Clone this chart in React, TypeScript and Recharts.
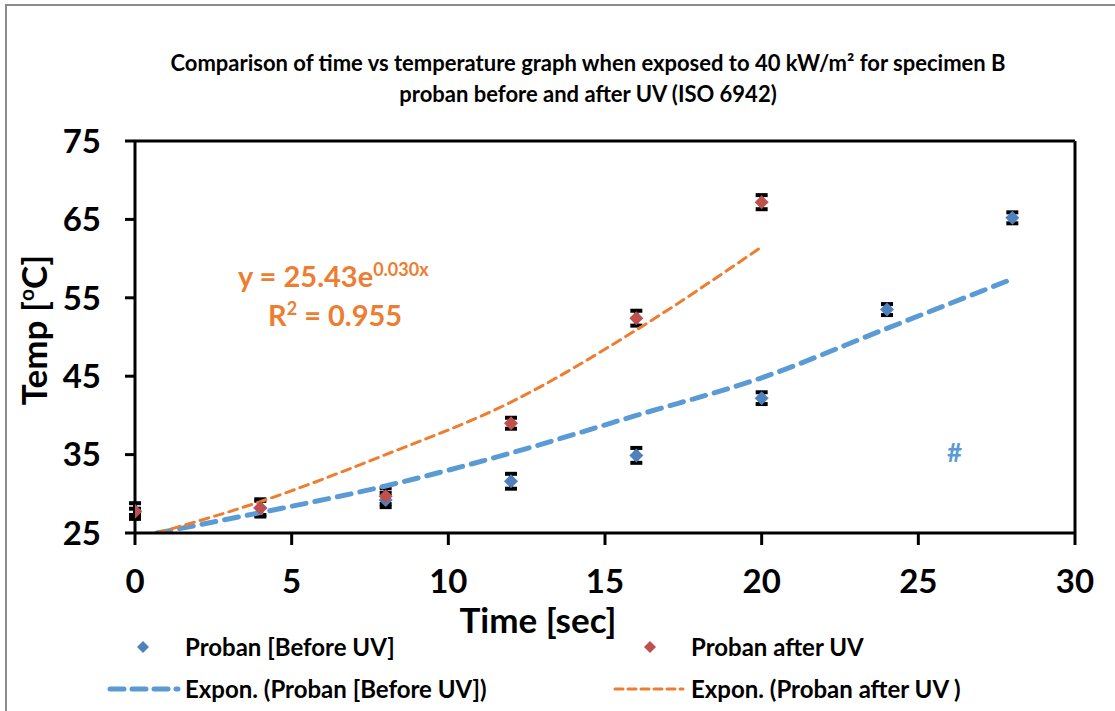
import React from 'react';
import {
  ComposedChart,
  Scatter,
  Line,
  XAxis,
  YAxis,
  ErrorBar,
  ReferenceLine,
} from 'recharts';

// measured points (sec, °C) and error half-widths
const timeBefore = [0, 4, 8, 12, 16, 20, 24, 28];
const tempBefore = [27.8, 28.2, 29.2, 31.6, 34.9, 42.2, 53.5, 65.2];
const errBefore = [1.0, 0.9, 0.9, 0.95, 0.95, 0.75, 0.7, 0.7];

const timeAfter = [0, 4, 8, 12, 16, 20];
const tempAfter = [27.7, 28.2, 29.7, 39.0, 52.4, 67.2];
const errAfter = [0.4, 1.1, 1.0, 0.7, 0.95, 0.9];

// exponential trendlines
const trendBeforeX = [0.7, 4, 8, 12, 16, 20, 24, 28];
const trendBeforeY = [25.0, 27.6, 31.0, 35.2, 40.0, 44.8, 51.1, 57.4];
const trendAfterX = [0.7, 4, 8, 12, 16, 20];
const trendAfterY = [25.0, 29.0, 35.0, 41.7, 50.9, 61.5];

const xTicks = [0, 5, 10, 15, 20, 25, 30];
const yTicks = [25, 35, 45, 55, 65, 75];

const BLUE = '#4F81BD';
const RED = '#C0504D';
const TREND_BLUE = '#5B9BD5';
const TREND_ORANGE = '#ED7D31';

const beforeData = timeBefore.map((x, i) => ({ x, y: tempBefore[i], err: errBefore[i] }));
const afterData = timeAfter.map((x, i) => ({ x, y: tempAfter[i], err: errAfter[i] }));
const trendBefore = trendBeforeX.map((x, i) => ({ x, y: trendBeforeY[i] }));
const trendAfter = trendAfterX.map((x, i) => ({ x, y: trendAfterY[i] }));

const diamond = (fill: string) => (props: any) => {
  const { cx, cy } = props;
  const r = 7;
  return (
    <polygon
      points={`${cx},${cy - r} ${cx + r},${cy} ${cx},${cy + r} ${cx - r},${cy}`}
      fill={fill}
    />
  );
};

const tickStyle = { fill: '#000', fontSize: 33, fontWeight: 700 };

const legendText: React.CSSProperties = {
  position: 'absolute',
  fontSize: 24,
  fontWeight: 700,
  color: '#000',
  whiteSpace: 'nowrap',
  lineHeight: '28px',
};

export default function App() {
  return (
    <div
      style={{
        position: 'absolute',
        left: 0,
        top: 0,
        width: 1115,
        height: 711,
        background: '#fff',
        fontFamily: 'Lato, sans-serif',
        overflow: 'hidden',
      }}
    >
      <div
        style={{
          position: 'absolute',
          left: 5,
          top: 4,
          width: 1200,
          height: 800,
          borderLeft: '2px solid #8c8c8c',
          borderTop: '2px solid #8c8c8c',
        }}
      />
      <div
        style={{
          position: 'absolute',
          left: 0,
          width: 1176,
          top: 47,
          textAlign: 'center',
          fontSize: 22,
          fontWeight: 700,
          lineHeight: '31px',
          color: '#000',
        }}
      >
        Comparison of time vs temperature graph when exposed to 40 kW/m² for specimen B
        <br />
        proban before and after UV (ISO 6942)
      </div>

      <ComposedChart
        width={1115}
        height={711}
        margin={{ top: 141, right: 40, bottom: 118, left: 0 }}
        style={{ position: 'absolute', left: 0, top: 0 }}
      >
        <XAxis
          dataKey="x"
          type="number"
          domain={[0, 30]}
          ticks={xTicks}
          allowDataOverflow
          height={60}
          axisLine={{ stroke: '#000', strokeWidth: 3 }}
          tickLine={{ stroke: '#000', strokeWidth: 3 }}
          tickSize={12}
          tickMargin={25}
          tick={tickStyle}
          label={{
            content: () => (
              <text x={538} y={633} textAnchor="middle" fontSize={35} fontWeight={700} fill="#000">
                Time [sec]
              </text>
            ),
          }}
        />
        <YAxis
          type="number"
          domain={[25, 75]}
          ticks={yTicks}
          allowDataOverflow
          width={135}
          axisLine={{ stroke: '#000', strokeWidth: 3 }}
          tickLine={{ stroke: '#000', strokeWidth: 3 }}
          tickSize={10}
          tickMargin={24}
          tick={tickStyle}
          label={{
            content: () => (
              <text
                transform="translate(47,330) rotate(-90)"
                textAnchor="middle"
                fontSize={35}
                fontWeight={700}
                fill="#000"
              >
                Temp [<tspan dy={-13} fontSize={21}>o</tspan>
                <tspan dy={13}>C]</tspan>
              </text>
            ),
          }}
        />
        <ReferenceLine y={75} stroke="#000" strokeWidth={3} ifOverflow="extendDomain" />
        <ReferenceLine x={30} stroke="#000" strokeWidth={3} ifOverflow="extendDomain" />

        <Scatter
          name="Proban [Before UV]"
          data={beforeData}
          dataKey="y"
          shape={diamond(BLUE)}
          isAnimationActive={false}
        >
          <ErrorBar dataKey="err" direction="y" width={6} strokeWidth={4} stroke="#000" />
        </Scatter>
        <Scatter
          name="Proban after UV"
          data={afterData}
          dataKey="y"
          shape={diamond(RED)}
          isAnimationActive={false}
        >
          <ErrorBar dataKey="err" direction="y" width={6} strokeWidth={4} stroke="#000" />
        </Scatter>

        <Line
          data={trendBefore}
          dataKey="y"
          type="monotone"
          stroke={TREND_BLUE}
          strokeWidth={5}
          strokeDasharray="14 9"
          strokeLinecap="round"
          dot={false}
          activeDot={false}
          isAnimationActive={false}
        />
        <Line
          data={trendAfter}
          dataKey="y"
          type="monotone"
          stroke={TREND_ORANGE}
          strokeWidth={3}
          strokeDasharray="9 6"
          strokeLinecap="round"
          dot={false}
          activeDot={false}
          isAnimationActive={false}
        />
      </ComposedChart>

      {/* trendline equation */}
      <div
        style={{
          position: 'absolute',
          left: 238,
          top: 256,
          fontSize: 29,
          fontWeight: 700,
          color: TREND_ORANGE,
          lineHeight: '39px',
          whiteSpace: 'nowrap',
        }}
      >
        y = 25.43e<sup style={{ fontSize: 18, verticalAlign: 'top', position: 'relative', top: -6 }}>0.030x</sup>
        <div style={{ marginLeft: 30 }}>
          R<sup style={{ fontSize: 18, verticalAlign: 'top', position: 'relative', top: -6 }}>2</sup> = 0.955
        </div>
      </div>

      <div
        style={{
          position: 'absolute',
          left: 947,
          top: 436,
          fontSize: 26,
          fontWeight: 700,
          color: TREND_BLUE,
        }}
      >
        #
      </div>

      {/* legend */}
      <svg style={{ position: 'absolute', left: 0, top: 630 }} width={1115} height={81}>
        <polygon points="143,11 149,17 143,23 137,17" fill={BLUE} />
        <polygon points="650,11 656,17 650,23 644,17" fill={RED} />
        <line x1={110} y1={59} x2={178} y2={59} stroke={TREND_BLUE} strokeWidth={5} strokeDasharray="14 8" strokeLinecap="round" />
        <line x1={615} y1={59} x2={683} y2={59} stroke={TREND_ORANGE} strokeWidth={3} strokeDasharray="8 5" strokeLinecap="round" />
      </svg>
      <div style={{ ...legendText, left: 185, top: 633 }}>Proban [Before UV]</div>
      <div style={{ ...legendText, left: 691, top: 633 }}>Proban after UV</div>
      <div style={{ ...legendText, left: 185, top: 675 }}>Expon. (Proban [Before UV])</div>
      <div style={{ ...legendText, left: 691, top: 675 }}>Expon. (Proban after UV )</div>
    </div>
  );
}
